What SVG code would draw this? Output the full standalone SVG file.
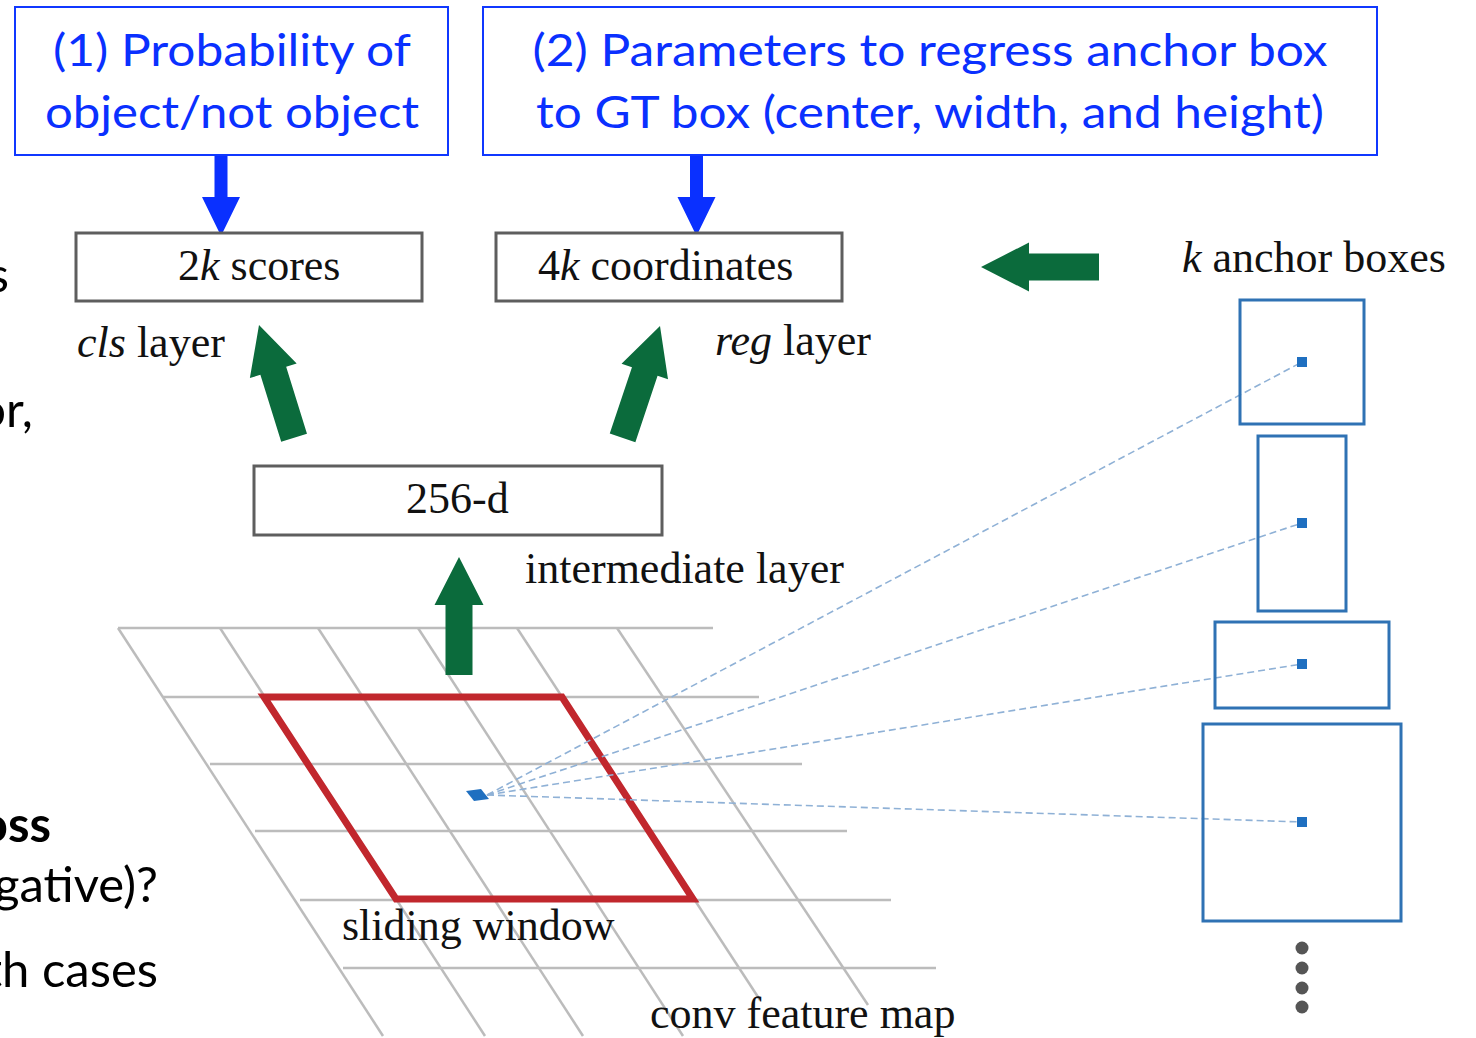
<svg xmlns="http://www.w3.org/2000/svg" width="1476" height="1038" viewBox="0 0 1476 1038">
  <style>
    .note{fill:#fff;stroke:#1038ff;stroke-width:2}
    .noteText{font-family:Lato,"Open Sans",sans-serif;font-size:44px;fill:#0a30ff;text-anchor:middle}
    .layer{fill:#fff;stroke:#5e5e5e;stroke-width:3}
    .serif{font-family:"Liberation Serif","Times New Roman",serif;font-size:44px;fill:#111}
    .grid line{stroke:#bcbcbc;stroke-width:2.5}
    .anchor{fill:none;stroke:#2f72b4;stroke-width:3}
    .ctr{fill:#1f6fc0}
    .ray{stroke:#8fb1d6;stroke-width:1.6;stroke-dasharray:7 4;fill:none}
    .side{font-family:Lato,"Open Sans",sans-serif;font-size:49px;fill:#000;text-anchor:end}
    .fat{fill:#0b6b3c}
    .thin{fill:#0a30ff}
  </style>
  <defs>
    <!-- block arrow, tip at origin, pointing up -->
    <polygon id="fatArrow" points="0,0 24.5,48 13.5,48 13.5,118 -13.5,118 -13.5,48 -24.5,48"/>
    <!-- slim arrow, tip at origin, pointing down -->
    <polygon id="thinArrow" points="0,0 -19,-39 -6.5,-39 -6.5,-82 6.5,-82 6.5,-39 19,-39"/>
  </defs>
  <rect width="1476" height="1038" fill="#fff"/>

  <!-- slide text running in from the left edge -->
  <g id="side-text">
    <text class="side" x="9" y="292">s</text>
    <text class="side" x="33" y="427">or,</text>
    <text class="side" x="51" y="842" font-weight="bold">oss</text>
    <text class="side" x="158" y="902">gative)?</text>
    <text class="side" x="158" y="987">th cases</text>
  </g>

  <!-- conv feature map grid -->
  <g id="feature-map" class="grid">
    <line x1="118" y1="628" x2="713" y2="628"/>
    <line x1="163" y1="697" x2="759" y2="697"/>
    <line x1="210" y1="764" x2="802" y2="764"/>
    <line x1="255" y1="831" x2="847" y2="831"/>
    <line x1="300" y1="900" x2="891" y2="900"/>
    <line x1="343" y1="968" x2="936" y2="968"/>
    <line x1="118" y1="628" x2="383" y2="1036"/>
    <line x1="220" y1="628" x2="485" y2="1036"/>
    <line x1="318" y1="628" x2="583" y2="1036"/>
    <line x1="418" y1="628" x2="683" y2="1036"/>
    <line x1="517" y1="628" x2="760" y2="1000"/>
    <line x1="617" y1="628" x2="868" y2="1005"/>
  </g>

  <!-- sliding window -->
  <g id="sliding-window">
    <polygon points="264,697 562,697 693,899 396,899" fill="none" stroke="#c1272d" stroke-width="7"/>
  </g>

  <!-- rays from the window centre to each anchor centre -->
  <g id="connectors">
    <path class="ray" d="M487,795 L1302,362"/>
    <path class="ray" d="M487,795 L1302,523"/>
    <path class="ray" d="M487,795 L1302,664"/>
    <path class="ray" d="M487,795 L1302,822"/>
    <polygon points="466,791 481,789 489,799 474,801" class="ctr"/>
    <use href="#fatArrow" class="fat" transform="translate(259,325) rotate(-17.3)"/>
    <use href="#fatArrow" class="fat" transform="translate(660,326) rotate(18.5)"/>
    <use href="#fatArrow" class="fat" transform="translate(459,557)"/>
    <use href="#fatArrow" class="fat" transform="translate(981,267) rotate(-90)"/>
    <use href="#thinArrow" class="thin" transform="translate(221,236)"/>
    <use href="#thinArrow" class="thin" transform="translate(696.5,236)"/>
  </g>

  <!-- anchor boxes -->
  <g id="anchor-1">
    <rect class="anchor" x="1240" y="300" width="124" height="124"/>
    <rect class="ctr" x="1297" y="357" width="10" height="10"/>
  </g>
  <g id="anchor-2">
    <rect class="anchor" x="1258" y="436" width="88" height="175"/>
    <rect class="ctr" x="1297" y="518" width="10" height="10"/>
  </g>
  <g id="anchor-3">
    <rect class="anchor" x="1215" y="622" width="174" height="86"/>
    <rect class="ctr" x="1297" y="659" width="10" height="10"/>
  </g>
  <g id="anchor-4">
    <rect class="anchor" x="1203" y="724" width="198" height="197"/>
    <rect class="ctr" x="1297" y="817" width="10" height="10"/>
  </g>
  <g id="anchor-more" fill="#555">
    <circle cx="1302" cy="948" r="6.5"/>
    <circle cx="1302" cy="968" r="6.5"/>
    <circle cx="1302" cy="988" r="6.5"/>
    <circle cx="1302" cy="1007" r="6.5"/>
  </g>
  <text class="serif" x="1182" y="272"><tspan font-style="italic">k</tspan> anchor boxes</text>

  <!-- network layers -->
  <g id="cls-scores">
    <rect class="layer" x="76" y="233" width="346" height="68"/>
    <text class="serif" x="178" y="280">2<tspan font-style="italic">k</tspan> scores</text>
  </g>
  <g id="reg-coords">
    <rect class="layer" x="496" y="233" width="346" height="68"/>
    <text class="serif" x="538" y="280">4<tspan font-style="italic">k</tspan> coordinates</text>
  </g>
  <g id="intermediate">
    <rect class="layer" x="254" y="466" width="408" height="69"/>
    <text class="serif" x="406" y="513">256-d</text>
  </g>
  <g id="layer-labels">
    <text class="serif" x="77" y="357"><tspan font-style="italic">cls</tspan> layer</text>
    <text class="serif" x="715" y="355"><tspan font-style="italic">reg</tspan> layer</text>
    <text class="serif" x="525" y="583">intermediate layer</text>
    <text class="serif" x="342" y="940">sliding window</text>
    <text class="serif" x="650" y="1028">conv feature map</text>
  </g>

  <!-- explanatory callouts -->
  <g id="note-cls">
    <rect class="note" x="15" y="7" width="433" height="148"/>
    <text class="noteText" x="232" y="66" textLength="358" lengthAdjust="spacingAndGlyphs">(1) Probability of</text>
    <text class="noteText" x="232" y="128" textLength="374" lengthAdjust="spacingAndGlyphs">object/not object</text>
  </g>
  <g id="note-reg">
    <rect class="note" x="483" y="7" width="894" height="148"/>
    <text class="noteText" x="930" y="66" textLength="795" lengthAdjust="spacingAndGlyphs">(2) Parameters to regress anchor box</text>
    <text class="noteText" x="930" y="128" textLength="788" lengthAdjust="spacingAndGlyphs">to GT box (center, width, and height)</text>
  </g>
</svg>
